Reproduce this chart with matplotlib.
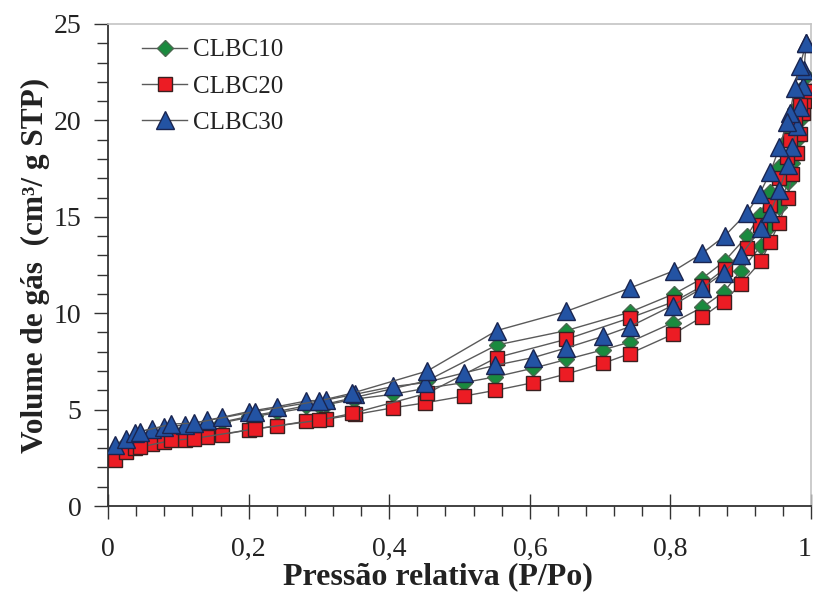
import matplotlib
matplotlib.use("Agg")
import matplotlib.pyplot as plt
from matplotlib.ticker import MultipleLocator

# ---- data (P/Po, volume) ----
# adsorption pressures
p_ads = [0.010, 0.026, 0.038, 0.062, 0.079, 0.110, 0.141, 0.162, 0.200, 0.240,
         0.282, 0.310, 0.352, 0.406, 0.451, 0.506, 0.551, 0.605, 0.652, 0.704,
         0.742, 0.803, 0.845, 0.876, 0.900, 0.929, 0.942, 0.955, 0.967, 0.973,
         0.980, 0.984, 0.988, 0.990, 0.993]
# desorption pressures
p_des = [0.993, 0.984, 0.977, 0.970, 0.966, 0.955, 0.942, 0.927, 0.909, 0.877,
         0.845, 0.805, 0.742, 0.652, 0.553, 0.454, 0.347, 0.300, 0.209, 0.122,
         0.090, 0.045]

clbc10_ads = [2.90, 3.25, 3.55, 3.75, 3.85, 3.95, 4.20, 4.35, 4.65, 4.90,
              5.20, 5.25, 5.55, 5.80, 6.10, 6.40, 6.70, 7.15, 7.60, 8.10,
              8.50, 9.50, 10.30, 11.10, 12.20, 13.50, 14.50, 15.50, 16.80, 17.80,
              19.00, 20.00, 21.00, 21.50, 22.30]
clbc10_des = [22.30, 21.60, 20.60, 19.50, 19.00, 17.60, 16.30, 15.10, 14.00, 12.70,
              11.80, 11.00, 10.05, 9.10, 8.35, 6.50, 5.60, 5.20, 4.65, 4.05,
              4.00, 3.60]

clbc20_ads = [2.40, 2.80, 3.00, 3.20, 3.30, 3.45, 3.60, 3.70, 3.95, 4.15,
              4.40, 4.50, 4.75, 5.10, 5.35, 5.70, 6.00, 6.40, 6.85, 7.40,
              7.90, 8.90, 9.80, 10.60, 11.50, 12.70, 13.70, 14.70, 16.00, 17.20,
              18.30, 19.30, 20.40, 21.00, 21.50]
clbc20_des = [21.50, 20.80, 19.90, 19.00, 18.10, 17.00, 15.60, 14.60, 13.40, 12.30,
              11.40, 10.60, 9.75, 8.65, 7.70, 5.85, 4.80, 4.45, 4.00, 3.50,
              3.40, 3.05]

clbc30_ads = [3.15, 3.50, 3.80, 4.00, 4.10, 4.20, 4.45, 4.60, 4.90, 5.15,
              5.45, 5.50, 5.80, 6.20, 6.40, 6.90, 7.30, 7.70, 8.20, 8.80,
              9.30, 10.40, 11.30, 12.10, 13.00, 14.40, 15.20, 16.40, 17.70, 18.60,
              19.70, 20.70, 21.80, 22.60, 24.00]
clbc30_des = [24.00, 22.80, 21.70, 20.40, 19.90, 18.60, 17.30, 16.20, 15.20, 14.00,
              13.10, 12.20, 11.30, 10.10, 9.10, 7.00, 5.85, 5.45, 4.90, 4.30,
              4.25, 3.85]

labels = ["CLBC10", "CLBC20", "CLBC30"]
x_ticks = [0, 0.2, 0.4, 0.6, 0.8, 1.0]
x_ticklabels = ["0", "0,2", "0,4", "0,6", "0,8", "1"]

serif = ["Liberation Serif", "DejaVu Serif"]
plt.rcParams["font.family"] = serif

fig = plt.figure(figsize=(8.16, 5.94), dpi=100)
ax = fig.add_axes([0.1324, 0.1481, 0.8615, 0.8115])

line_color = "#5a5a5a"
styles = [
    dict(marker="D", ms=8.5, mfc="#1a8a3e", mec="#4a6a50", zorder=3),
    dict(marker="s", ms=10, mfc="#ec1c24", mec="#3a2020", zorder=4),
    dict(marker="^", ms=12.5, mfc="#2353a3", mec="#1a2550", zorder=5),
]
series = [(clbc10_ads, clbc10_des), (clbc20_ads, clbc20_des), (clbc30_ads, clbc30_des)]

handles = []
for (ads, des), st, lab in zip(series, styles, labels):
    h, = ax.plot(p_ads, ads, color=line_color, lw=1.0, mew=1.0, label=lab, **st)
    ax.plot(p_des, des, color=line_color, lw=1.0, mew=1.0, **st)
    handles.append(h)

ax.set_xlim(0, 1)
ax.set_ylim(0, 25)

ax.xaxis.set_minor_locator(MultipleLocator(0.04))
ax.yaxis.set_major_locator(MultipleLocator(5))
ax.yaxis.set_minor_locator(MultipleLocator(1))
ax.set_xticks(x_ticks)
ax.set_xticklabels(x_ticklabels)

ax.tick_params(axis="x", which="major", direction="inout", length=18, width=1.0,
               labelsize=20, pad=13, color="#333333")
ax.tick_params(axis="x", which="minor", direction="out", length=7, width=1.0, color="#333333")
ax.tick_params(axis="y", which="major", direction="out", length=10, width=1.0,
               labelsize=20, pad=9, color="#333333")
ax.tick_params(axis="y", which="minor", direction="out", length=8, width=1.0, color="#333333")
for t in ax.get_xticklabels() + ax.get_yticklabels():
    t.set_color("#222222")
# keep the last x label inside the canvas
ax.get_xticklabels()[-1].set_horizontalalignment("right")
ax.get_xticklabels()[-1].set_x(1.0)

for s in ["left", "bottom"]:
    ax.spines[s].set_color("#333333")
    ax.spines[s].set_linewidth(1.3)
for s in ["top", "right"]:
    ax.spines[s].set_color("#c4c4c4")
    ax.spines[s].set_linewidth(1.2)

ax.set_xlabel("Pressão relativa (P/Po)", fontsize=23, fontweight="bold", color="#222222")
ax.xaxis.set_label_coords(0.469, -0.117)
ax.set_ylabel("Volume de gás  (cm³/ g STP)", fontsize=22.5, fontweight="bold", color="#222222", labelpad=3)

leg = ax.legend(handles=handles, loc="upper left", bbox_to_anchor=(0.027, 1.0),
                frameon=False, fontsize=18, numpoints=1, handlelength=1.8,
                handletextpad=0.25, labelspacing=0.55, borderaxespad=0.2)
for t in leg.get_texts():
    t.set_color("#222222")

fig.savefig("out.png", dpi=100, facecolor="white")
